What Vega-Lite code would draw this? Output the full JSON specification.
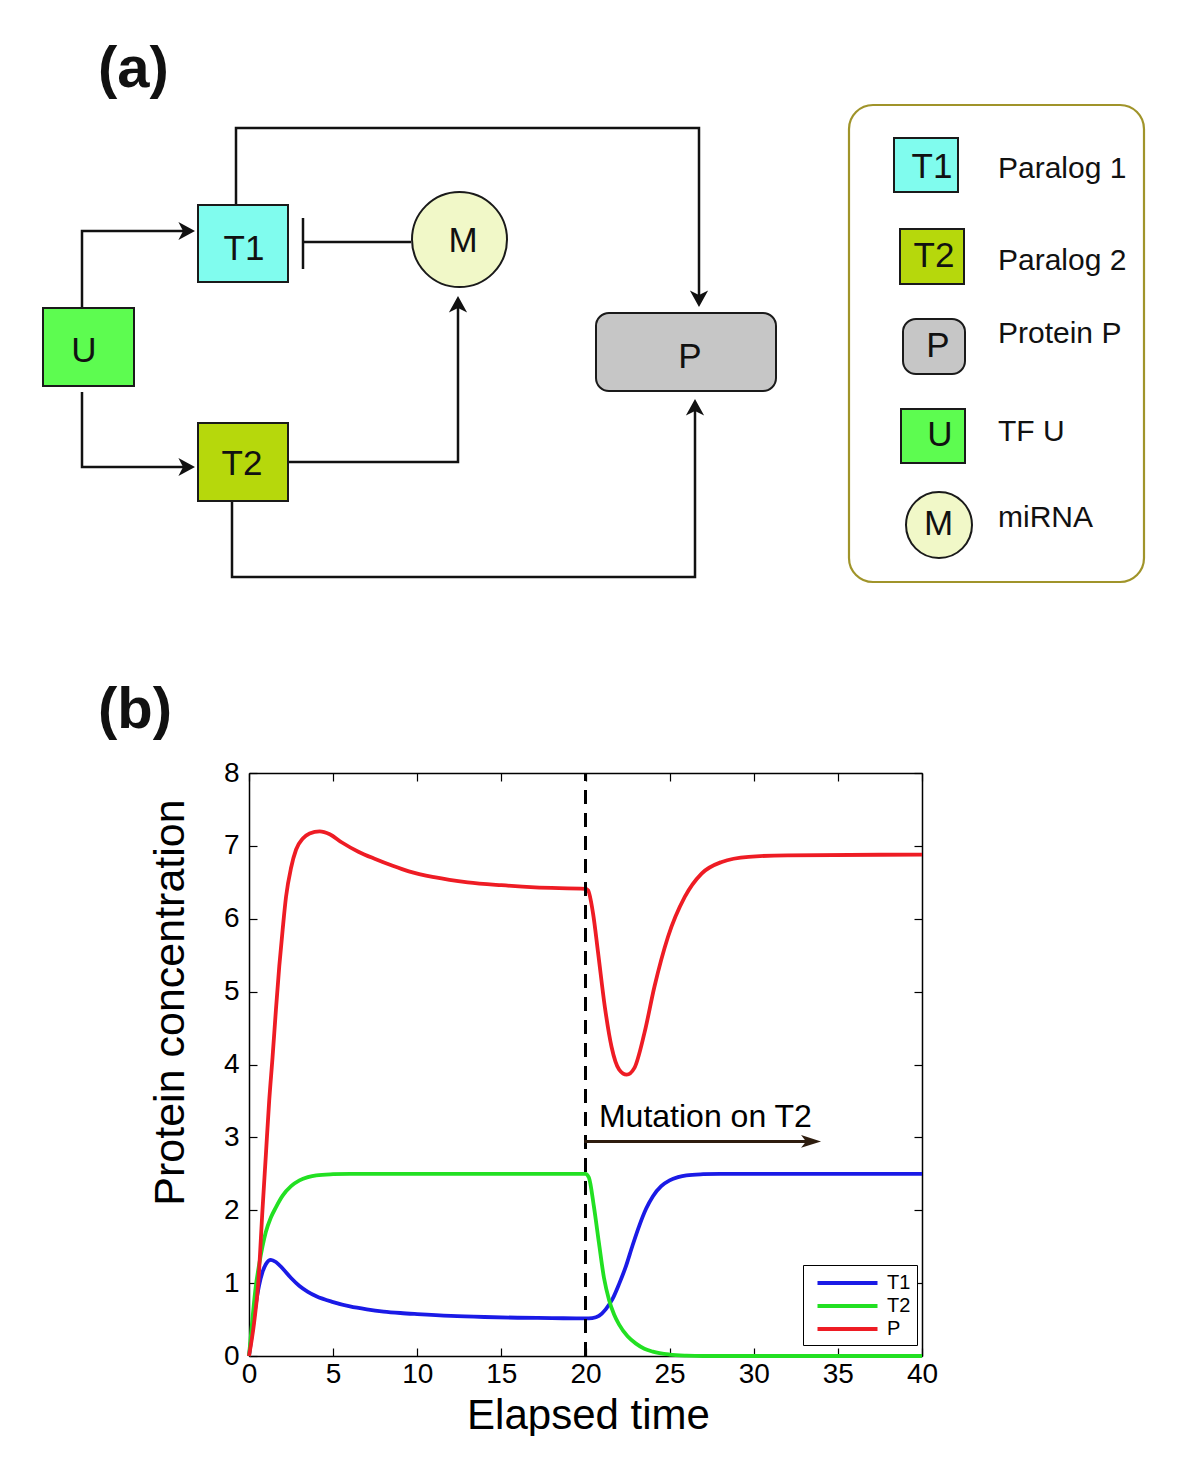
{
  "$schema": "https://vega.github.io/schema/vega-lite/v6.json",
  "padding": 0,
  "background": "white",
  "spacing": 0,
  "config": {"font": "Liberation Sans", "view": {"stroke": null}},
  "resolve": {"scale": {"color": "independent", "shape": "independent", "x": "independent", "y": "independent"}, "legend": {"color": "independent", "shape": "independent"}},
  "datasets": {
    "frame": [{"x": 0, "x2": 1200, "y": 0, "y2": 759}],
    "keyframe": [{"x": 848, "x2": 1143, "y": 105, "y2": 582}],
    "boxes": [
      {"x": 197, "x2": 287, "y": 205, "y2": 282, "kind": "T1"},
      {"x": 197, "x2": 287, "y": 423, "y2": 501, "kind": "T2"},
      {"x": 42, "x2": 133, "y": 308, "y2": 386, "kind": "U"},
      {"x": 893, "x2": 957, "y": 138, "y2": 192, "kind": "T1"},
      {"x": 899, "x2": 963, "y": 229, "y2": 284, "kind": "T2"},
      {"x": 900, "x2": 964, "y": 409, "y2": 463, "kind": "U"}
    ],
    "rboxes": [
      {"x": 595, "x2": 775, "y": 313, "y2": 391, "kind": "P"},
      {"x": 902, "x2": 964, "y": 319, "y2": 374, "kind": "P"}
    ],
    "circles": [
      {"x": 458.5, "y": 239.5, "kind": "M", "where": "diagram"},
      {"x": 938, "y": 525, "kind": "M", "where": "key"}
    ],
    "links": [
      {"g": "T1P", "o": 0, "x": 235, "y": 205},
      {"g": "T1P", "o": 1, "x": 235, "y": 128},
      {"g": "T1P", "o": 2, "x": 698, "y": 128},
      {"g": "T1P", "o": 3, "x": 698, "y": 295},
      {"g": "UT1", "o": 0, "x": 81, "y": 308},
      {"g": "UT1", "o": 1, "x": 81, "y": 231},
      {"g": "UT1", "o": 2, "x": 183, "y": 231},
      {"g": "UT2", "o": 0, "x": 81, "y": 392},
      {"g": "UT2", "o": 1, "x": 81, "y": 467},
      {"g": "UT2", "o": 2, "x": 183, "y": 467},
      {"g": "T2M", "o": 0, "x": 287, "y": 462},
      {"g": "T2M", "o": 1, "x": 457, "y": 462},
      {"g": "T2M", "o": 2, "x": 457, "y": 308},
      {"g": "T2P", "o": 0, "x": 231, "y": 501},
      {"g": "T2P", "o": 1, "x": 231, "y": 577},
      {"g": "T2P", "o": 2, "x": 694, "y": 577},
      {"g": "T2P", "o": 3, "x": 694, "y": 411},
      {"g": "MT1", "o": 0, "x": 410, "y": 242},
      {"g": "MT1", "o": 1, "x": 302, "y": 242},
      {"g": "bar", "o": 0, "x": 302, "y": 218},
      {"g": "bar", "o": 1, "x": 302, "y": 269}
    ],
    "heads": [
      {"x": 698, "y": 307, "dir": "down"},
      {"x": 194, "y": 231, "dir": "right"},
      {"x": 194, "y": 467, "dir": "right"},
      {"x": 457, "y": 296, "dir": "up"},
      {"x": 694, "y": 399, "dir": "up"}
    ],
    "nodeLabels": [
      {"x": 243, "y": 260, "label": "T1"},
      {"x": 241, "y": 475, "label": "T2"},
      {"x": 83, "y": 362, "label": "U"},
      {"x": 462, "y": 252, "label": "M"},
      {"x": 689, "y": 368, "label": "P"},
      {"x": 931, "y": 178, "label": "T1"},
      {"x": 933, "y": 267, "label": "T2"},
      {"x": 937, "y": 357, "label": "P"},
      {"x": 939, "y": 446, "label": "U"},
      {"x": 937.5, "y": 535, "label": "M"}
    ],
    "keyLabels": [
      {"x": 997, "y": 178, "label": "Paralog 1"},
      {"x": 997, "y": 270, "label": "Paralog 2"},
      {"x": 997, "y": 343, "label": "Protein P"},
      {"x": 997, "y": 441, "label": "TF U"},
      {"x": 997, "y": 527, "label": "miRNA"}
    ],
    "panels": [
      {"x": 97, "y": 87, "label": "(a)"},
      {"x": 97, "y": 728, "label": "(b)"}
    ],
    "curves": [
      {"t": 0, "v": 0, "s": "T1"}, {"t": 0.2, "v": 0.35, "s": "T1"}, {"t": 0.4, "v": 0.7, "s": "T1"},
      {"t": 0.6, "v": 0.97, "s": "T1"}, {"t": 0.8, "v": 1.15, "s": "T1"}, {"t": 1.0, "v": 1.26, "s": "T1"},
      {"t": 1.3, "v": 1.32, "s": "T1"}, {"t": 1.6, "v": 1.29, "s": "T1"}, {"t": 2.0, "v": 1.2, "s": "T1"},
      {"t": 2.5, "v": 1.07, "s": "T1"}, {"t": 3.0, "v": 0.96, "s": "T1"}, {"t": 3.5, "v": 0.88, "s": "T1"},
      {"t": 4.0, "v": 0.82, "s": "T1"}, {"t": 5.0, "v": 0.74, "s": "T1"}, {"t": 6.0, "v": 0.68, "s": "T1"},
      {"t": 7.0, "v": 0.64, "s": "T1"}, {"t": 8.0, "v": 0.61, "s": "T1"}, {"t": 9.0, "v": 0.59, "s": "T1"},
      {"t": 10, "v": 0.575, "s": "T1"}, {"t": 12, "v": 0.55, "s": "T1"}, {"t": 14, "v": 0.535, "s": "T1"},
      {"t": 16, "v": 0.525, "s": "T1"}, {"t": 18, "v": 0.52, "s": "T1"}, {"t": 20, "v": 0.515, "s": "T1"},
      {"t": 20.4, "v": 0.52, "s": "T1"}, {"t": 20.8, "v": 0.55, "s": "T1"}, {"t": 21.2, "v": 0.64, "s": "T1"},
      {"t": 21.6, "v": 0.78, "s": "T1"}, {"t": 22.0, "v": 0.99, "s": "T1"}, {"t": 22.4, "v": 1.23, "s": "T1"},
      {"t": 22.8, "v": 1.52, "s": "T1"}, {"t": 23.2, "v": 1.79, "s": "T1"}, {"t": 23.6, "v": 2.02, "s": "T1"},
      {"t": 24.0, "v": 2.19, "s": "T1"}, {"t": 24.5, "v": 2.33, "s": "T1"}, {"t": 25.0, "v": 2.41, "s": "T1"},
      {"t": 25.5, "v": 2.455, "s": "T1"}, {"t": 26, "v": 2.48, "s": "T1"}, {"t": 27, "v": 2.495, "s": "T1"},
      {"t": 28, "v": 2.5, "s": "T1"}, {"t": 32, "v": 2.5, "s": "T1"}, {"t": 40, "v": 2.5, "s": "T1"},
      {"t": 0, "v": 0, "s": "T2"}, {"t": 0.2, "v": 0.5, "s": "T2"}, {"t": 0.4, "v": 0.95, "s": "T2"},
      {"t": 0.6, "v": 1.25, "s": "T2"}, {"t": 0.8, "v": 1.5, "s": "T2"}, {"t": 1.0, "v": 1.7, "s": "T2"},
      {"t": 1.3, "v": 1.9, "s": "T2"}, {"t": 1.6, "v": 2.04, "s": "T2"}, {"t": 2.0, "v": 2.2, "s": "T2"},
      {"t": 2.5, "v": 2.33, "s": "T2"}, {"t": 3.0, "v": 2.41, "s": "T2"}, {"t": 3.5, "v": 2.455, "s": "T2"},
      {"t": 4.0, "v": 2.48, "s": "T2"}, {"t": 5.0, "v": 2.495, "s": "T2"}, {"t": 6.0, "v": 2.5, "s": "T2"},
      {"t": 10, "v": 2.5, "s": "T2"}, {"t": 15, "v": 2.5, "s": "T2"}, {"t": 20, "v": 2.5, "s": "T2"},
      {"t": 20.2, "v": 2.45, "s": "T2"}, {"t": 20.5, "v": 2.05, "s": "T2"}, {"t": 20.8, "v": 1.55, "s": "T2"},
      {"t": 21.1, "v": 1.07, "s": "T2"}, {"t": 21.4, "v": 0.77, "s": "T2"}, {"t": 21.7, "v": 0.57, "s": "T2"},
      {"t": 22.0, "v": 0.43, "s": "T2"}, {"t": 22.5, "v": 0.27, "s": "T2"}, {"t": 23.0, "v": 0.17, "s": "T2"},
      {"t": 23.5, "v": 0.1, "s": "T2"}, {"t": 24.0, "v": 0.06, "s": "T2"}, {"t": 25.0, "v": 0.02, "s": "T2"},
      {"t": 26.0, "v": 0.005, "s": "T2"}, {"t": 27, "v": 0, "s": "T2"}, {"t": 40, "v": 0, "s": "T2"},
      {"t": 0, "v": 0, "s": "P"}, {"t": 0.3, "v": 0.45, "s": "P"}, {"t": 0.55, "v": 1.0, "s": "P"},
      {"t": 0.8, "v": 2.0, "s": "P"}, {"t": 1.0, "v": 2.75, "s": "P"}, {"t": 1.2, "v": 3.5, "s": "P"},
      {"t": 1.4, "v": 4.1, "s": "P"}, {"t": 1.6, "v": 4.75, "s": "P"}, {"t": 1.8, "v": 5.35, "s": "P"},
      {"t": 2.0, "v": 5.85, "s": "P"}, {"t": 2.2, "v": 6.3, "s": "P"}, {"t": 2.5, "v": 6.7, "s": "P"},
      {"t": 2.8, "v": 6.95, "s": "P"}, {"t": 3.2, "v": 7.1, "s": "P"}, {"t": 3.6, "v": 7.17, "s": "P"},
      {"t": 4.2, "v": 7.2, "s": "P"}, {"t": 4.8, "v": 7.16, "s": "P"}, {"t": 5.5, "v": 7.05, "s": "P"},
      {"t": 6.5, "v": 6.92, "s": "P"}, {"t": 7.5, "v": 6.82, "s": "P"}, {"t": 8.5, "v": 6.73, "s": "P"},
      {"t": 9.5, "v": 6.65, "s": "P"}, {"t": 11, "v": 6.57, "s": "P"}, {"t": 13, "v": 6.5, "s": "P"},
      {"t": 15, "v": 6.46, "s": "P"}, {"t": 17, "v": 6.43, "s": "P"}, {"t": 20, "v": 6.41, "s": "P"},
      {"t": 20.15, "v": 6.39, "s": "P"}, {"t": 20.45, "v": 6.07, "s": "P"}, {"t": 20.75, "v": 5.53, "s": "P"},
      {"t": 21.15, "v": 4.79, "s": "P"}, {"t": 21.55, "v": 4.24, "s": "P"}, {"t": 22.0, "v": 3.93, "s": "P"},
      {"t": 22.45, "v": 3.86, "s": "P"}, {"t": 22.9, "v": 3.95, "s": "P"}, {"t": 23.5, "v": 4.43, "s": "P"},
      {"t": 24.1, "v": 5.07, "s": "P"}, {"t": 24.9, "v": 5.75, "s": "P"}, {"t": 25.9, "v": 6.3, "s": "P"},
      {"t": 26.9, "v": 6.62, "s": "P"}, {"t": 28.1, "v": 6.78, "s": "P"}, {"t": 29.7, "v": 6.85, "s": "P"},
      {"t": 32, "v": 6.87, "s": "P"}, {"t": 40, "v": 6.88, "s": "P"}
    ]
  },
  "vconcat": [
    {
      "width": 952,
      "height": 759,
      "layer": [
        {
          "data": {"name": "frame"},
          "mark": {"type": "rect", "fill": "transparent"},
          "encoding": {
            "x": {"field": "x", "type": "quantitative", "scale": {"domain": [248, 1200], "nice": false, "zero": false}, "axis": null},
            "x2": {"field": "x2"},
            "y": {"field": "y", "type": "quantitative", "scale": {"domain": [0, 759], "reverse": true, "nice": false, "zero": false}, "axis": null},
            "y2": {"field": "y2"}
          }
        },
        {
          "data": {"name": "keyframe"},
          "mark": {"type": "rect", "fill": "transparent", "stroke": "#a0942a", "strokeWidth": 2.2, "cornerRadius": 24},
          "encoding": {
            "x": {"field": "x", "type": "quantitative", "scale": {"domain": [248, 1200], "nice": false, "zero": false}, "axis": null},
            "x2": {"field": "x2"},
            "y": {"field": "y", "type": "quantitative", "scale": {"domain": [0, 759], "reverse": true, "nice": false, "zero": false}, "axis": null},
            "y2": {"field": "y2"}
          }
        },
        {
          "data": {"name": "links"},
          "mark": {"type": "line", "color": "#111111", "strokeWidth": 2.5, "strokeJoin": "miter", "strokeCap": "butt"},
          "encoding": {
            "x": {"field": "x", "type": "quantitative", "scale": {"domain": [248, 1200], "nice": false, "zero": false}, "axis": null},
            "y": {"field": "y", "type": "quantitative", "scale": {"domain": [0, 759], "reverse": true, "nice": false, "zero": false}, "axis": null},
            "detail": {"field": "g"},
            "order": {"field": "o", "type": "quantitative"}
          }
        },
        {
          "data": {"name": "boxes"},
          "mark": {"type": "rect", "stroke": "#1a1a1a", "strokeWidth": 2},
          "encoding": {
            "x": {"field": "x", "type": "quantitative", "scale": {"domain": [248, 1200], "nice": false, "zero": false}, "axis": null},
            "x2": {"field": "x2"},
            "y": {"field": "y", "type": "quantitative", "scale": {"domain": [0, 759], "reverse": true, "nice": false, "zero": false}, "axis": null},
            "y2": {"field": "y2"},
            "color": {"field": "kind", "type": "nominal", "scale": {"domain": ["T1", "T2", "U", "P", "M"], "range": ["#80fcee", "#b6d80c", "#5dfc50", "#c6c6c6", "#f1f8c8"]}, "legend": null}
          }
        },
        {
          "data": {"name": "rboxes"},
          "mark": {"type": "rect", "stroke": "#1a1a1a", "strokeWidth": 2, "cornerRadius": 13},
          "encoding": {
            "x": {"field": "x", "type": "quantitative", "scale": {"domain": [248, 1200], "nice": false, "zero": false}, "axis": null},
            "x2": {"field": "x2"},
            "y": {"field": "y", "type": "quantitative", "scale": {"domain": [0, 759], "reverse": true, "nice": false, "zero": false}, "axis": null},
            "y2": {"field": "y2"},
            "color": {"field": "kind", "type": "nominal", "scale": {"domain": ["T1", "T2", "U", "P", "M"], "range": ["#80fcee", "#b6d80c", "#5dfc50", "#c6c6c6", "#f1f8c8"]}, "legend": null}
          }
        },
        {
          "data": {"name": "circles"},
          "transform": [{"filter": "datum.where === 'diagram'"}],
          "mark": {"type": "point", "shape": "circle", "filled": true, "opacity": 1, "size": 9025, "stroke": "#1a1a1a", "strokeWidth": 2},
          "encoding": {
            "x": {"field": "x", "type": "quantitative", "scale": {"domain": [248, 1200], "nice": false, "zero": false}, "axis": null},
            "y": {"field": "y", "type": "quantitative", "scale": {"domain": [0, 759], "reverse": true, "nice": false, "zero": false}, "axis": null},
            "color": {"field": "kind", "type": "nominal", "scale": {"domain": ["T1", "T2", "U", "P", "M"], "range": ["#80fcee", "#b6d80c", "#5dfc50", "#c6c6c6", "#f1f8c8"]}, "legend": null}
          }
        },
        {
          "data": {"name": "circles"},
          "transform": [{"filter": "datum.where === 'key'"}],
          "mark": {"type": "point", "shape": "circle", "filled": true, "opacity": 1, "size": 4356, "stroke": "#1a1a1a", "strokeWidth": 2},
          "encoding": {
            "x": {"field": "x", "type": "quantitative", "scale": {"domain": [248, 1200], "nice": false, "zero": false}, "axis": null},
            "y": {"field": "y", "type": "quantitative", "scale": {"domain": [0, 759], "reverse": true, "nice": false, "zero": false}, "axis": null},
            "color": {"field": "kind", "type": "nominal", "scale": {"domain": ["T1", "T2", "U", "P", "M"], "range": ["#80fcee", "#b6d80c", "#5dfc50", "#c6c6c6", "#f1f8c8"]}, "legend": null}
          }
        },
        {
          "data": {"name": "heads"},
          "mark": {"type": "point", "filled": true, "opacity": 1, "size": 1100, "color": "#111111", "strokeWidth": 0},
          "encoding": {
            "x": {"field": "x", "type": "quantitative", "scale": {"domain": [248, 1200], "nice": false, "zero": false}, "axis": null},
            "y": {"field": "y", "type": "quantitative", "scale": {"domain": [0, 759], "reverse": true, "nice": false, "zero": false}, "axis": null},
            "shape": {"field": "dir", "type": "nominal", "scale": {"domain": ["up", "down", "right"], "range": ["M0,0L0.55,1L0,0.72L-0.55,1Z", "M0,0L0.55,-1L0,-0.72L-0.55,-1Z", "M0,0L-1,0.55L-0.72,0L-1,-0.55Z"]}, "legend": null}
          }
        },
        {
          "data": {"name": "nodeLabels"},
          "mark": {"type": "text", "fontSize": 35, "align": "center", "baseline": "alphabetic", "color": "#111111"},
          "encoding": {
            "x": {"field": "x", "type": "quantitative", "scale": {"domain": [248, 1200], "nice": false, "zero": false}, "axis": null},
            "y": {"field": "y", "type": "quantitative", "scale": {"domain": [0, 759], "reverse": true, "nice": false, "zero": false}, "axis": null},
            "text": {"field": "label"}
          }
        },
        {
          "data": {"name": "keyLabels"},
          "mark": {"type": "text", "fontSize": 30, "align": "left", "baseline": "alphabetic", "color": "#111111"},
          "encoding": {
            "x": {"field": "x", "type": "quantitative", "scale": {"domain": [248, 1200], "nice": false, "zero": false}, "axis": null},
            "y": {"field": "y", "type": "quantitative", "scale": {"domain": [0, 759], "reverse": true, "nice": false, "zero": false}, "axis": null},
            "text": {"field": "label"}
          }
        },
        {
          "data": {"name": "panels"},
          "mark": {"type": "text", "fontSize": 58, "fontWeight": "bold", "align": "left", "baseline": "alphabetic", "color": "#111111"},
          "encoding": {
            "x": {"field": "x", "type": "quantitative", "scale": {"domain": [248, 1200], "nice": false, "zero": false}, "axis": null},
            "y": {"field": "y", "type": "quantitative", "scale": {"domain": [0, 759], "reverse": true, "nice": false, "zero": false}, "axis": null},
            "text": {"field": "label"}
          }
        }
      ]
    },
    {
      "width": 673,
      "height": 583,
      "resolve": {"axis": {"x": "independent", "y": "independent"}},
      "layer": [
        {
          "data": {"name": "curves"},
          "mark": {"type": "line", "strokeWidth": 3.8, "interpolate": "monotone"},
          "encoding": {
            "x": {
              "field": "t", "type": "quantitative",
              "scale": {"domain": [0, 40], "nice": false, "zero": false},
              "axis": {
                "orient": "bottom", "values": [0, 5, 10, 15, 20, 25, 30, 35, 40], "format": "d",
                "grid": false, "labelFontSize": 28, "labelColor": "black", "labelPadding": 12,
                "labelFlush": false, "labelOverlap": false,
                "tickSize": -8, "tickColor": "black", "tickWidth": 1.2,
                "domainColor": "black", "domainWidth": 1.5,
                "title": "Elapsed time", "titleFontSize": 42, "titleFontWeight": "normal", "titleColor": "black",
                "titleX": 339, "titleY": 72, "titleBaseline": "alphabetic", "titleAlign": "center"
              }
            },
            "y": {
              "field": "v", "type": "quantitative",
              "scale": {"domain": [0, 8], "nice": false, "zero": false},
              "axis": {
                "orient": "left", "values": [0, 1, 2, 3, 4, 5, 6, 7, 8], "format": "d",
                "grid": false, "labelFontSize": 28, "labelColor": "black", "labelPadding": 18,
                "labelFlush": false, "labelOverlap": false,
                "tickSize": -8, "tickColor": "black", "tickWidth": 1.2,
                "domainColor": "black", "domainWidth": 1.5,
                "title": "Protein concentration", "titleFontSize": 43, "titleFontWeight": "normal", "titleColor": "black",
                "titleAngle": -90, "titleX": -66, "titleY": 229, "titleBaseline": "alphabetic", "titleAlign": "center"
              }
            },
            "color": {
              "field": "s", "type": "nominal",
              "scale": {"domain": ["T1", "T2", "P"], "range": ["#1a1ae6", "#22e022", "#ee1c24"]},
              "legend": {
                "orient": "none", "legendX": 554, "legendY": 492, "title": null,
                "symbolType": "M-3,0L3,0", "symbolSize": 400, "symbolStrokeWidth": 4,
                "labelFontSize": 20, "labelColor": "black",
                "strokeColor": "black", "fillColor": "white", "padding": 6, "rowPadding": 1,
                "symbolOffset": 26.5, "labelOffset": 27.5
              }
            }
          }
        },
        {
          "data": {"values": [{"t": 20, "v": 0, "v2": 8}]},
          "mark": {"type": "rule", "color": "black", "strokeWidth": 3, "strokeDash": [14, 9]},
          "encoding": {
            "x": {
              "field": "t", "type": "quantitative",
              "scale": {"domain": [0, 40], "nice": false, "zero": false},
              "axis": {
                "orient": "top", "values": [0, 5, 10, 15, 20, 25, 30, 35, 40], "labels": false, "title": null,
                "grid": false, "tickSize": -8, "tickColor": "black", "tickWidth": 1.2,
                "domainColor": "black", "domainWidth": 1.5
              }
            },
            "y": {
              "field": "v", "type": "quantitative",
              "scale": {"domain": [0, 8], "nice": false, "zero": false},
              "axis": {
                "orient": "right", "values": [0, 1, 2, 3, 4, 5, 6, 7, 8], "labels": false, "title": null,
                "grid": false, "tickSize": -8, "tickColor": "black", "tickWidth": 1.2,
                "domainColor": "black", "domainWidth": 1.5
              }
            },
            "y2": {"field": "v2"}
          }
        },
        {
          "data": {"values": [{"t": 19.93, "t2": 33.3, "v": 2.945}]},
          "mark": {"type": "rule", "color": "#2e1d0f", "strokeWidth": 3},
          "encoding": {
            "x": {"field": "t", "type": "quantitative", "scale": {"domain": [0, 40], "nice": false, "zero": false}, "axis": null},
            "x2": {"field": "t2"},
            "y": {"field": "v", "type": "quantitative", "scale": {"domain": [0, 8], "nice": false, "zero": false}, "axis": null}
          }
        },
        {
          "data": {"values": [{"t": 34.0, "v": 2.945}]},
          "mark": {"type": "point", "shape": "M0,0L-1,0.32L-0.75,0L-1,-0.32Z", "filled": true, "opacity": 1, "size": 1600, "color": "#2e1d0f", "strokeWidth": 0},
          "encoding": {
            "x": {"field": "t", "type": "quantitative", "scale": {"domain": [0, 40], "nice": false, "zero": false}, "axis": null},
            "y": {"field": "v", "type": "quantitative", "scale": {"domain": [0, 8], "nice": false, "zero": false}, "axis": null}
          }
        },
        {
          "data": {"values": [{"t": 20.8, "v": 3.14, "label": "Mutation on T2"}]},
          "mark": {"type": "text", "fontSize": 32, "align": "left", "baseline": "alphabetic", "color": "black"},
          "encoding": {
            "x": {"field": "t", "type": "quantitative", "scale": {"domain": [0, 40], "nice": false, "zero": false}, "axis": null},
            "y": {"field": "v", "type": "quantitative", "scale": {"domain": [0, 8], "nice": false, "zero": false}, "axis": null},
            "text": {"field": "label"}
          }
        }
      ]
    }
  ]
}
